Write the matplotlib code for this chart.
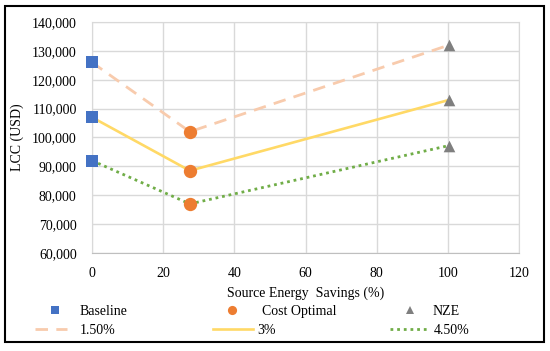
import matplotlib
matplotlib.use("Agg")
import matplotlib.pyplot as plt
from matplotlib.lines import Line2D
from matplotlib.patches import Rectangle
from matplotlib.ticker import FuncFormatter

plt.rcParams['font.family'] = 'serif'
plt.rcParams['font.serif'] = ['Liberation Serif', 'DejaVu Serif']

# Data
savings_baseline = 0
savings_cost_opt = 27.5
savings_nze = 100.3
rates = ["1.50%", "3%", "4.50%"]
baseline_lcc = [126000, 107000, 92000]
cost_opt_lcc = [102000, 88500, 77000]
nze_lcc = [132000, 113000, 97200]
x_ticks = [0, 20, 40, 60, 80, 100, 120]
y_ticks = [60000, 70000, 80000, 90000, 100000, 110000, 120000, 130000, 140000]

line_colors = ["#F8CBAD", "#FFD966", "#70AD47"]
line_styles = [(0, (4.5, 3)), "-", (0, (1, 1.4))]
line_widths = [2.0, 1.9, 2.0]

W, H = 550, 351
FS = 10
fig = plt.figure(figsize=(W / 100, H / 100), dpi=100)
ax = fig.add_axes([92 / W, 1 - 253 / H, (519 - 92) / W, (253 - 22) / H])

xs = [savings_baseline, savings_cost_opt, savings_nze]
line_handles = []
for i, r in enumerate(rates):
    ys = [baseline_lcc[i], cost_opt_lcc[i], nze_lcc[i]]
    h, = ax.plot(xs, ys, color=line_colors[i], linestyle=line_styles[i],
                 linewidth=line_widths[i], zorder=2, label=r)
    line_handles.append(h)

marker_specs = [("Baseline", 's', 78, "#4472C4", [savings_baseline] * 3, baseline_lcc),
                ("Cost Optimal", 'o', 92, "#ED7D31", [savings_cost_opt] * 3, cost_opt_lcc),
                ("NZE", '^', 70, "#7F7F7F", [savings_nze] * 3, nze_lcc)]
for name, mk, sz, col, xv, yv in marker_specs:
    ax.scatter(xv, yv, marker=mk, s=sz, color=col, zorder=3, clip_on=False, linewidths=0)

ax.set_xlim(0, 120)
ax.set_ylim(60000, 140000)
ax.set_xticks(x_ticks)
ax.set_yticks(y_ticks)
ax.yaxis.set_major_formatter(FuncFormatter(lambda v, p: f"{int(v):,}"))
ax.grid(True, color="#D9D9D9", linewidth=1.0)
ax.set_axisbelow(True)
for s in ax.spines.values():
    s.set_color("#D9D9D9")
ax.spines['bottom'].set_color("#BFBFBF")
ax.tick_params(axis='y', length=0, labelsize=FS, pad=11, colors="#000000")
ax.tick_params(axis='x', length=0, labelsize=FS, pad=10, colors="#000000")
ax.set_xlabel("Source Energy  Savings (%)", fontsize=FS, labelpad=5)
ax.set_ylabel("LCC (USD)", fontsize=FS, labelpad=6)

# Legend: one small legend per entry, laid out like the original
px_per_em = FS * 100 / 72.0


def add_entry(handle, label, x_start, x_end, x_text, y_center):
    fig.legend([handle], [label], loc='center left',
               bbox_to_anchor=(x_start / W, 1 - y_center / H), frameon=False,
               fontsize=FS, handlelength=(x_end - x_start) / px_per_em,
               handletextpad=(x_text - x_end) / px_per_em,
               borderaxespad=0, borderpad=0, handleheight=0.7)


marker_cols = [(55, 80), (232, 262), (410, 433)]
line_cols = [(35, 67, 80), (213, 253, 257), (390, 430, 434)]
msizes = [6.3, 6.6, 5.2]
for (name, mk, sz, col, xv, yv), ms, (mx, tx) in zip(marker_specs, msizes, marker_cols):
    m = Line2D([], [], marker=mk, linestyle='None', markersize=ms, color=col,
               markeredgewidth=0)
    add_entry(m, name, mx - 10, mx + 10, tx, 311.5)
for lh, rate, (x0, x1, tx) in zip(line_handles, rates, line_cols):
    add_entry(lh, rate, x0, x1, tx, 330)

fig.patches.append(Rectangle((5 / W, 1 - 342 / H), 539 / W, 336 / H, transform=fig.transFigure,
                             fill=False, edgecolor="black", linewidth=1.5))

fig.savefig("out.png", dpi=100, facecolor="white")
